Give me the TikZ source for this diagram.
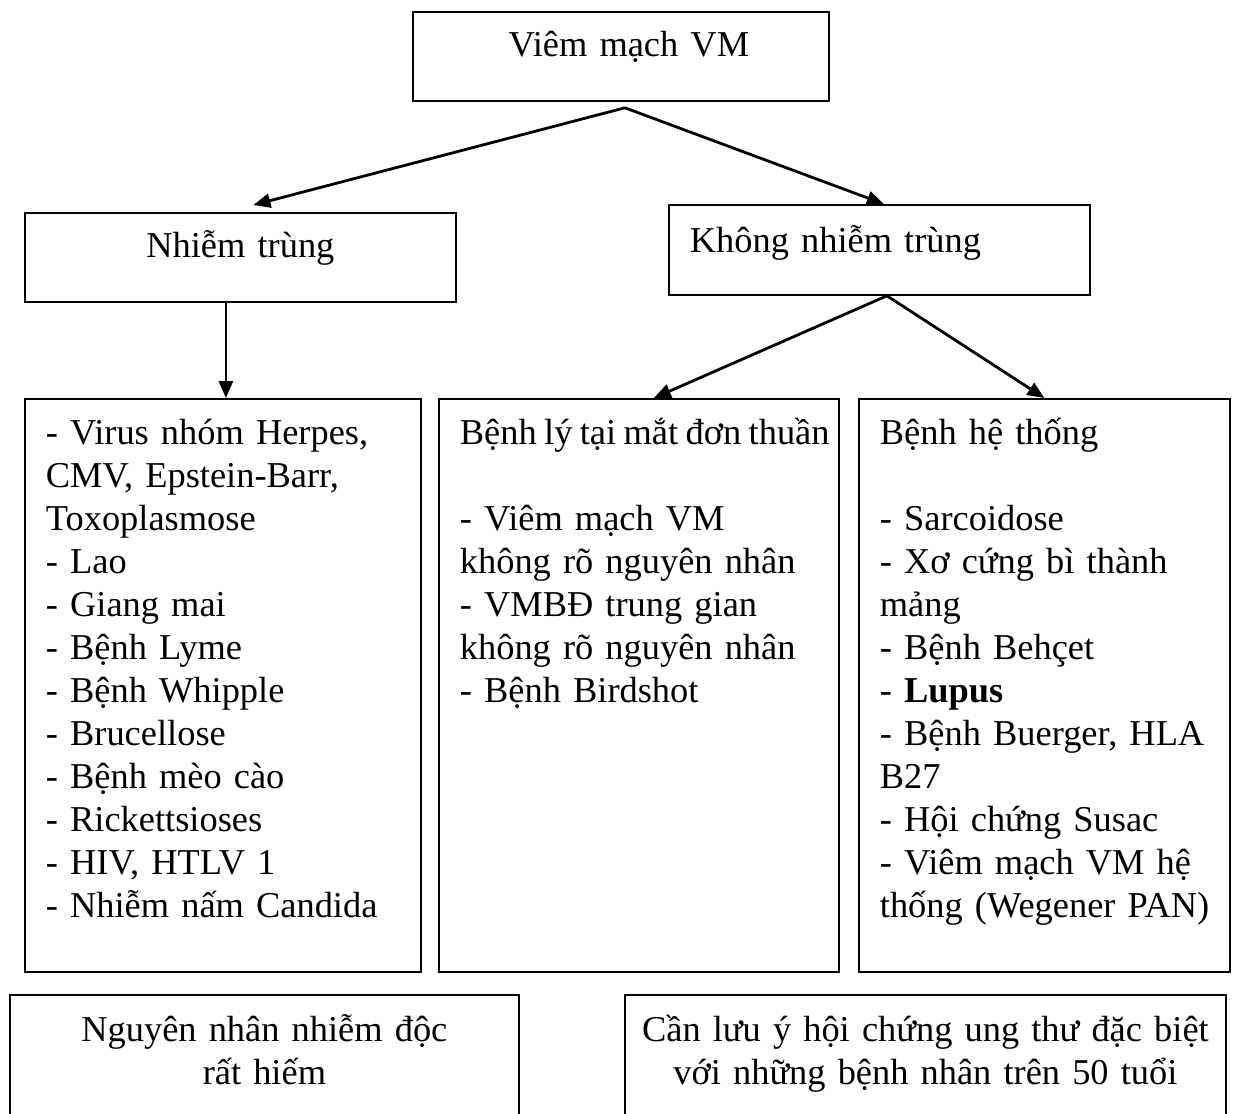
\documentclass[tikz,border=0pt]{standalone}
\usepackage{fontspec}
\setmainfont{Liberation Serif}
\usetikzlibrary{arrows.meta}
\tikzset{box/.style={draw,line width=0.9pt,anchor=north west,inner xsep=0pt,inner ysep=0pt,font=\fontsize{18.2pt}{21.5pt}\selectfont}}
\tikzset{midbox/.style={box,align=center}}
\tikzset{listbox/.style={box,align=left,execute at begin node={\leftskip=10.5pt}}}
\tikzset{arr/.style={line width=1.4pt,-{Triangle[length=8.5pt,width=7pt]}}}

\begin{document}
\begin{tikzpicture}[x=0.5pt,y=-0.5pt]
        % Page frame (the bottom boxes run off the page)
        \useasboundingbox (0,0) rectangle (1241,1113);
        \clip (0,0) rectangle (1241,1113);
        % Top box
        \node[midbox,text width=208pt,text height=22.5pt,text depth=22pt] 
        (vm) at (412,11) {\hspace*{8pt}Viêm mạch VM};
        % Second row
        \node[midbox,text width=215.5pt,text height=22.5pt,text depth=22pt] 
        (nt) at (24,212) {Nhiễm trùng};
        \node[listbox,text width=210.5pt,text height=24pt,text depth=21pt] 
        (knt) at (668,204) {Không nhiễm trùng};
        % Third row: the lists
        \node[listbox,text width=198pt,text height=23pt,text depth=263.5pt] 
        (infect) at (24,398) {\mbox{- Virus nhóm Herpes,}\\CMV, Epstein-Barr,\\Toxoplasmose\\- Lao\\- Giang mai\\- Bệnh Lyme\\- Bệnh Whipple\\- Brucellose\\- Bệnh mèo cào\\- Rickettsioses\\- HIV, HTLV 1\\\mbox{- Nhiễm nấm Candida}};
        \node[listbox,text width=200pt,text height=23pt,text depth=263.5pt] 
        (ocular) at (438,398) {\mbox{\spaceskip=3.7pt Bệnh lý tại mắt đơn thuần}\\[21.5pt]- Viêm mạch VM\\\mbox{không rõ nguyên nhân}\\- VMBĐ trung gian\\\mbox{không rõ nguyên nhân}\\- Bệnh Birdshot};
        \node[listbox,text width=185.5pt,text height=23pt,text depth=263.5pt] 
        (systemic) at (858,398) {Bệnh hệ thống\\[21.5pt]- Sarcoidose\\- Xơ cứng bì thành\\mảng\\- Bệnh Behçet\\- \textbf{Lupus}\\\mbox{- Bệnh Buerger, HLA}\\B27\\- Hội chứng Susac\\- Viêm mạch VM hệ\\\mbox{thống (Wegener PAN)}};
        % Bottom notes
        \node[midbox,text width=254.5pt,text height=23.5pt,text depth=54.5pt] 
        (toxic) at (9,994) {Nguyên nhân nhiễm độc\\rất hiếm};
        \node[midbox,text width=300.5pt,text height=23.5pt,text depth=54.5pt] 
        (cancer) at (624,994) {\mbox{Cần lưu ý hội chứng ung thư đặc biệt}\\với những bệnh nhân trên 50 tuổi};
        % Forks
        \coordinate (vm fork) at ([shift={(2pt,-3pt)}]vm.south);
        \coordinate (knt fork) at ([xshift=3.75pt]knt.south);
        % Arrows
        \draw[arr] (vm fork) -- ([shift={(6.5pt,3.5pt)}]nt.north);
        \draw[arr] (vm fork) -- ([xshift=2.25pt]knt.north);
        \draw[arr] ([xshift=-7.25pt]nt.south) -- ([xshift=1.5pt]infect.north);
        \draw[arr] (knt fork) -- ([xshift=7.5pt]ocular.north);
        \draw[arr] (knt fork) -- (systemic.north);
    \end{tikzpicture}
\end{document}
